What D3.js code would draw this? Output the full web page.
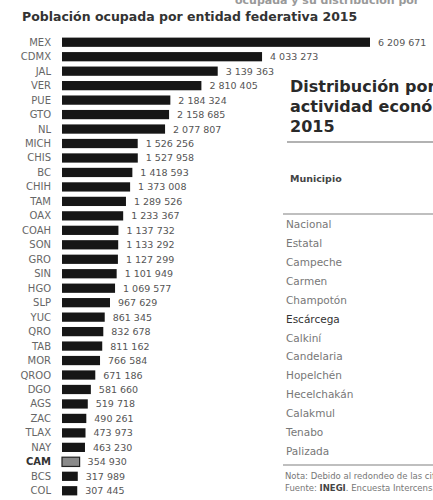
<!DOCTYPE html>
<meta charset="utf-8">
<head>
  <style>
    body { margin: 0; background: #fff; }
    svg { display: block; font-family: "DejaVu Sans", Verdana, sans-serif; }
    .title { font-weight: bold; font-size: 12.5px; fill: #333; }
    .cat { font-size: 10px; fill: #666; text-anchor: end; }
    .val { font-size: 9.5px; fill: #555; }
    .ptitle { font-weight: bold; font-size: 16px; fill: #2a2a2a; }
    .mun { font-size: 10.5px; fill: #777; }
    .note { font-size: 8.5px; fill: #777; }
  </style>
</head>
<script src="https://d3js.org/d3.v7.min.js"></script>
<div id="my_dataviz"></div>
<script>
// data
const states = ["MEX","CDMX","JAL","VER","PUE","GTO","NL","MICH","CHIS","BC","CHIH","TAM","OAX","COAH","SON","GRO","SIN","HGO","SLP","YUC","QRO","TAB","MOR","QROO","DGO","AGS","ZAC","TLAX","NAY","CAM","BCS","COL"];
const workers = [6209671,4033273,3139363,2810405,2184324,2158685,2077807,1526256,1527958,1418593,1373008,1289526,1233367,1137732,1133292,1127299,1101949,1069577,967629,861345,832678,811162,766584,671186,581660,519718,490261,473973,463230,354930,317989,307445];
const highlight = "CAM";
const municipios = ["Nacional","Estatal","Campeche","Carmen","Champotón","Escárcega","Calkiní","Candelaria","Hopelchén","Hecelchakán","Calakmul","Tenabo","Palizada"];

const W = 433, H = 500;
const svg = d3.select("#my_dataviz").append("svg")
  .attr("width", W).attr("height", H);

const fmt = v => d3.format(",")(v).replace(/,/g, " ");

// header of the page, cut off by the top edge
svg.append("text").attr("x", 235).attr("y", 4)
  .attr("font-size", 11).attr("font-weight", "bold").attr("fill", "#999")
  .text("ocupada y su distribución por");

svg.append("text").attr("class", "title").attr("x", 22).attr("y", 21)
  .text("Población ocupada por entidad federativa 2015");

const y = d3.scaleBand().domain(states).range([35, 498]).paddingInner(0.36).paddingOuter(0.18);
const x = d3.scaleLinear().domain([0, d3.max(workers)]).range([62, 370]);

const rows = states.map((s, i) => ({ s, v: workers[i] }));

svg.selectAll("rect.bar").data(rows).enter().append("rect")
  .attr("class", "bar")
  .attr("x", x(0))
  .attr("y", d => y(d.s))
  .attr("width", d => x(d.v) - x(0))
  .attr("height", y.bandwidth())
  .attr("fill", d => d.s === highlight ? "#8a8a8a" : "#161616")
  .attr("stroke", d => d.s === highlight ? "#222" : "none")
  .attr("stroke-width", 1.2);

svg.selectAll("text.cat").data(rows).enter().append("text")
  .attr("class", "cat")
  .attr("x", 51)
  .attr("y", d => y(d.s) + y.bandwidth() / 2 + 3.5)
  .attr("font-weight", d => d.s === highlight ? "bold" : null)
  .style("fill", d => d.s === highlight ? "#333" : null)
  .text(d => d.s);

svg.selectAll("text.val").data(rows).enter().append("text")
  .attr("class", "val")
  .attr("x", d => x(d.v) + 8)
  .attr("y", d => y(d.s) + y.bandwidth() / 2 + 3.5)
  .text(d => fmt(d.v));

// right panel (table cropped by the right edge)
const px = 290;
["Distribución por", "actividad económica", "2015"].forEach((t, i) => {
  svg.append("text").attr("class", "ptitle").attr("x", px).attr("y", 92 + i * 20).text(t);
});
svg.append("line").attr("x1", 287).attr("x2", W).attr("y1", 142).attr("y2", 142)
  .attr("stroke", "#999").attr("stroke-width", 1.5);
svg.append("text").attr("x", px).attr("y", 182).attr("font-size", 9.5)
  .attr("font-weight", "bold").attr("fill", "#444").text("Municipio");
svg.append("line").attr("x1", 283).attr("x2", W).attr("y1", 214).attr("y2", 214)
  .attr("stroke", "#aaa").attr("stroke-width", 1.5);

const my = d3.scalePoint().domain(municipios).range([224, 451]);
svg.selectAll("text.mun").data(municipios).enter().append("text")
  .attr("class", "mun")
  .attr("x", 286)
  .attr("y", d => my(d) + 4)
  .style("fill", d => d === "Escárcega" ? "#333" : null)
  .text(d => d);

svg.append("line").attr("x1", 283).attr("x2", W).attr("y1", 465).attr("y2", 465)
  .attr("stroke", "#aaa").attr("stroke-width", 1.5);
svg.append("text").attr("class", "note").attr("x", 285).attr("y", 479)
  .text("Nota: Debido al redondeo de las cifras");
const src = svg.append("text").attr("class", "note").attr("x", 285).attr("y", 491);
src.append("tspan").text("Fuente: ");
src.append("tspan").attr("font-weight", "bold").attr("fill", "#444").text("INEGI");
src.append("tspan").text(". Encuesta Intercensal 2015");
</script>
